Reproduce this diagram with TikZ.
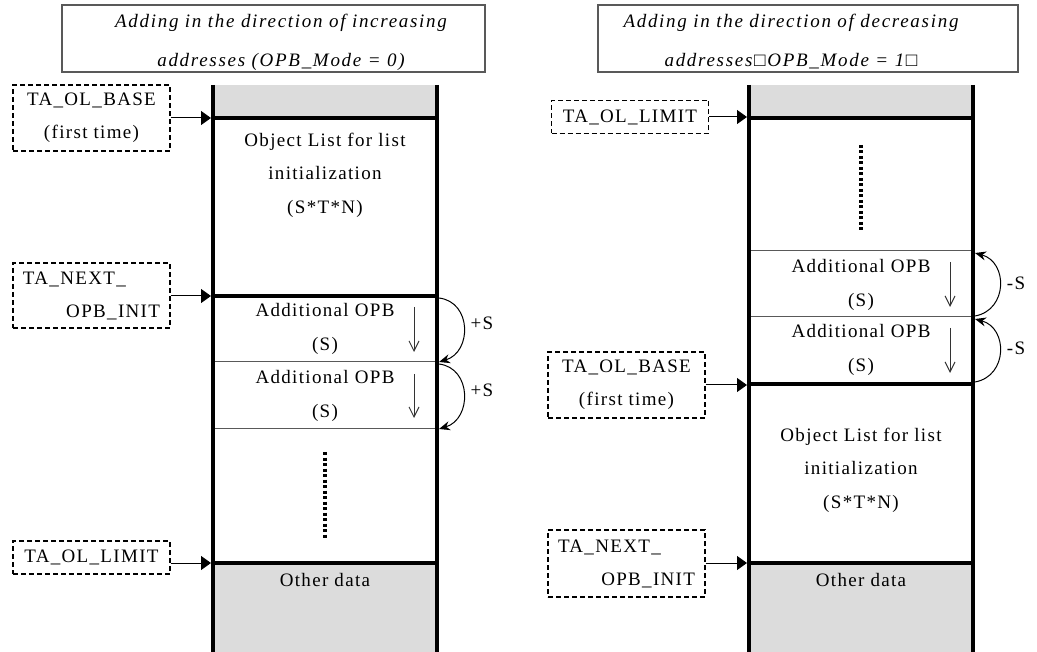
\documentclass[tikz,border=0pt]{standalone}
\usepackage{fontspec}
\setmainfont{Liberation Serif}[LetterSpace=7]
\newfontfamily\titlefont{Liberation Serif}[LetterSpace=9]
\usetikzlibrary{arrows.meta}
\definecolor{cellgray}{HTML}{DCDCDC}
\begin{document}
\begin{tikzpicture}[x=1pt,y=-1pt,
  txt/.style={font=\fontsize{19}{33.5}\selectfont, align=center, inner sep=0pt},
  ttlbox/.style={draw=black!65, line width=1.2pt, minimum height=67pt, inner sep=0pt},
  ttltext/.style={align=center, inner sep=0pt, font=\titlefont\itshape\fontsize{19}{39}\selectfont},
  lbl/.style={draw, line width=1.4pt, dash pattern=on 5pt off 3pt, minimum width=157pt,
    align=center, inner sep=0pt, font=\fontsize{19}{33}\selectfont},
  vbar/.style={line width=4pt},
  hbar/.style={line width=4pt},
  thinline/.style={line width=1pt, black!65},
  ptr/.style={line width=1pt, -{Triangle[length=10pt,width=14pt]}},
  downarr/.style={line width=1pt, black!80, -{Straight Barb[length=10pt,width=10pt]}},
  curvearr/.style={line width=1pt, -{Stealth[length=11pt,width=9pt]}},
  dots/.style={line width=4pt, dash pattern=on 3pt off 2.5pt},
  cellfill/.style={fill=cellgray}
]
\useasboundingbox (0,0) rectangle (1037,652);

% ---------- titles ----------
\node[ttlbox, minimum width=423pt] (titleL) at (273.5,38.5) {};
\node[ttltext] (titleLt) at (281,42) {Adding in the direction of increasing\\addresses (OPB\_Mode = 0)};
\node[ttlbox, minimum width=420pt] (titleR) at (808,38.5) {};
\node[ttltext] (titleRt) at (791,42) {Adding in the direction of decreasing\\addresses□OPB\_Mode = 1□};

% ---------- left column ----------
\fill[cellfill] (213,85) rectangle (437,118);
\fill[cellfill] (213,563) rectangle (437,652);
\draw[thinline] (213,362) -- (437,362);
\draw[thinline] (213,429) -- (437,429);
\draw[hbar] (211,118) -- (439,118);
\draw[hbar] (211,296) -- (439,296);
\draw[hbar] (211,563) -- (439,563);
\draw[vbar] (213,85) -- (213,652);
\draw[vbar] (437,85) -- (437,652);
\draw[dots] (325,452) -- (325,538);

\node[txt] (objL) at (325,175) {Object List for list\\initialization\\(S*T*N)};
\node[txt] (opbL1) at (325,329) {Additional OPB\\(S)};
\node[txt] (opbL2) at (325,396) {Additional OPB\\(S)};
\node[txt] (othL) at (325,580) {Other data};

\coordinate (dL1a) at (414,307); \coordinate (dL1b) at (414,352);
\coordinate (dL2a) at (414,374); \coordinate (dL2b) at (414,418);
\draw[downarr] (dL1a) -- (dL1b);
\draw[downarr] (dL2a) -- (dL2b);

\coordinate (cL0) at (439,298);
\coordinate (cL1) at (439,362);
\coordinate (cL1s) at (439,364);
\coordinate (cL2) at (439,429);
\draw[curvearr] (cL0) .. controls (472,302) and (472,352) .. (cL1);
\draw[curvearr] (cL1s) .. controls (472,368) and (472,419) .. (cL2);
\node[txt] (plusS1) at (482,323) {+S};
\node[txt] (plusS2) at (482,390) {+S};

% left labels
\node[lbl, minimum height=66pt] (lbaseL) at (91.5,118) {TA\_OL\_BASE\\(first time)};
\node[lbl, minimum height=65pt] (lnextL) at (91.5,295.5)
  {\makebox[137pt][l]{TA\_NEXT\_}\\\makebox[137pt][r]{OPB\_INIT}};
\node[lbl, minimum height=33pt] (llimL) at (91.5,557.5) {TA\_OL\_LIMIT};

\coordinate (tbaseL) at (211,118);
\coordinate (tnextL) at (211,296);
\coordinate (tlimL) at (211,563);
\draw[ptr] (lbaseL.east |- tbaseL) -- (tbaseL);
\draw[ptr] (lnextL.east |- tnextL) -- (tnextL);
\draw[ptr] (llimL.east |- tlimL) -- (tlimL);

% ---------- right column ----------
\fill[cellfill] (749,85) rectangle (973,118);
\fill[cellfill] (749,563) rectangle (973,652);
\draw[thinline] (749,251) -- (973,251);
\draw[thinline] (749,317) -- (973,317);
\draw[hbar] (747,118) -- (975,118);
\draw[hbar] (747,384) -- (975,384);
\draw[hbar] (747,563) -- (975,563);
\draw[vbar] (749,85) -- (749,652);
\draw[vbar] (973,85) -- (973,652);
\draw[dots] (861,145) -- (861,230);

\node[txt] (opbR1) at (861,285) {Additional OPB\\(S)};
\node[txt] (opbR2) at (861,350) {Additional OPB\\(S)};
\node[txt] (objR) at (861,470) {Object List for list\\initialization\\(S*T*N)};
\node[txt] (othR) at (861,580) {Other data};

\coordinate (dR1a) at (950,262); \coordinate (dR1b) at (950,307);
\coordinate (dR2a) at (950,328); \coordinate (dR2b) at (950,373);
\draw[downarr] (dR1a) -- (dR1b);
\draw[downarr] (dR2a) -- (dR2b);

\coordinate (cR0) at (975,382);
\coordinate (cR1) at (975,319);
\coordinate (cR1s) at (975,316);
\coordinate (cR2) at (975,253);
\draw[curvearr] (cR0) .. controls (1008,376) and (1008,328) .. (cR1);
\draw[curvearr] (cR1s) .. controls (1008,310) and (1008,262) .. (cR2);
\node[txt] (minS1) at (1016,283) {-S};
\node[txt] (minS2) at (1016,348) {-S};

% right labels
\node[lbl, minimum height=33pt] (llimR) at (630,117) {TA\_OL\_LIMIT};
\node[lbl, minimum height=66pt] (lbaseR) at (626.5,385) {TA\_OL\_BASE\\(first time)};
\node[lbl, minimum height=67pt] (lnextR) at (626.5,563.5)
  {\makebox[137pt][l]{TA\_NEXT\_}\\\makebox[137pt][r]{OPB\_INIT}};

\coordinate (tlimR) at (747,117);
\coordinate (tbaseR) at (747,385);
\coordinate (tnextR) at (747,563);
\draw[ptr] (llimR.east |- tlimR) -- (tlimR);
\draw[ptr] (lbaseR.east |- tbaseR) -- (tbaseR);
\draw[ptr] (lnextR.east |- tnextR) -- (tnextR);
\end{tikzpicture}
\end{document}
